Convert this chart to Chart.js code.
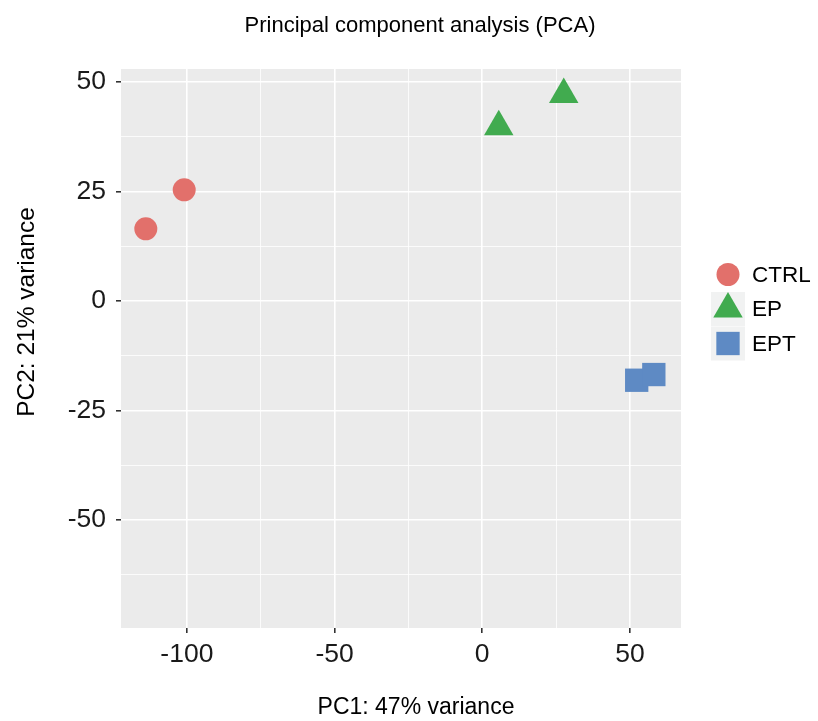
<!DOCTYPE html>
<html>
<head>
<meta charset="utf-8">
<script src="https://cdn.jsdelivr.net/npm/chart.js@4.4.1/dist/chart.umd.min.js"></script>
<style>
  html, body { margin: 0; padding: 0; background: #fff; }
  #wrap { width: 818px; height: 721px; }
</style>
</head>
<body>
<div id="wrap"><canvas id="pca" width="818" height="721"></canvas></div>
<script>
// PCA scores
const groups = ["CTRL", "EP", "EPT"];
const ctrlX = [-113.9, -100.9];
const ctrlY = [16.5, 25.4];
const epX = [5.6, 27.6];
const epY = [39.8, 47.2];
const eptX = [52.3, 58.1];
const eptY = [-18.1, -16.8];

// grid positions (major + minor) and which of them get a label
const xTicks = [-100, -75, -50, -25, 0, 25, 50];
const yTicks = [-62.5, -50, -37.5, -25, -12.5, 0, 12.5, 25, 37.5, 50];
const xLabelled = [-100, -50, 0, 50];
const yLabelled = [-50, -25, 0, 25, 50];

const groupColors = ["#E2706B", "#41AB4F", "#5E8AC4"];
const groupShapes = ["circle", "triangle", "rect"];
const groupSizes = [11.5, 17, 16.5];

const FONT = "'Liberation Sans', Arial, Helvetica, sans-serif";

function toPoints(xs, ys) {
    return xs.map((x, i) => ({ x: x, y: ys[i] }));
}

const seriesData = [toPoints(ctrlX, ctrlY), toPoints(epX, epY), toPoints(eptX, eptY)];

// grey panel behind the grid, ggplot style
const panelBg = {
    id: "panelBg",
    beforeDraw(chart) {
        const { ctx, chartArea: a } = chart;
        ctx.save();
        ctx.fillStyle = "#EBEBEB";
        ctx.fillRect(a.left, a.top, a.right - a.left, a.bottom - a.top);
        ctx.restore();
    }
};

// title, axis titles and the legend on the right
const decorations = {
    id: "decorations",
    afterDraw(chart) {
        const ctx = chart.ctx;
        ctx.save();
        ctx.fillStyle = "#000";
        ctx.textAlign = "center";
        ctx.textBaseline = "alphabetic";
        ctx.font = "22px " + FONT;
        ctx.fillText("Principal component analysis (PCA)", 420, 32);

        ctx.font = "23px " + FONT;
        ctx.fillText("PC1: 47% variance", 416, 714);

        ctx.save();
        ctx.translate(34, 312);
        ctx.rotate(-Math.PI / 2);
        ctx.font = "24.5px " + FONT;
        ctx.fillText("PC2: 21% variance", 0, 0);
        ctx.restore();

        // legend keys
        const keyX = 711, keySize = 34, firstCenter = 274.5, step = 34.5;
        chart.data.datasets.forEach((ds, i) => {
            const cy = firstCenter + i * step;
            if (i > 0) {
                ctx.fillStyle = "#F1F2F2";
                ctx.fillRect(keyX, cy - keySize / 2, keySize, keySize);
            }
            ctx.fillStyle = ds.backgroundColor;
            Chart.helpers.drawPoint(ctx, {
                pointStyle: ds.pointStyle,
                radius: ds.pointRadius,
                rotation: 0,
                borderWidth: 0
            }, keyX + keySize / 2, cy);
            ctx.fillStyle = "#000";
            ctx.font = "22.5px " + FONT;
            ctx.textAlign = "left";
            ctx.textBaseline = "middle";
            ctx.fillText(ds.label, 752, cy + 1);
        });
        ctx.restore();
    }
};

const datasets = groups.map((g, i) => ({
    label: g,
    data: seriesData[i],
    backgroundColor: groupColors[i],
    borderColor: groupColors[i],
    pointStyle: groupShapes[i],
    pointRadius: groupSizes[i],
    pointBorderWidth: 0,
    showLine: false
}));

const chartConfig = {
    type: "scatter",
    data: { datasets: datasets },
    options: {
        responsive: false,
        animation: false,
        events: [],
        layout: { padding: { top: 69, right: 137, left: 0, bottom: 0 } },
        plugins: {
            legend: { display: false },
            title: { display: false },
            tooltip: { enabled: false }
        },
        scales: {
            x: {
                type: "linear",
                min: -122.3,
                max: 67.3,
                afterBuildTicks: (scale) => {
                    scale.ticks = xTicks.map(v => ({ value: v }));
                },
                afterFit: (scale) => { scale.height = 93; },
                border: { display: false },
                grid: {
                    color: "#FFFFFF",
                    lineWidth: (c) => xLabelled.includes(c.tick.value) ? 1.6 : 0.8,
                    tickColor: (c) => xLabelled.includes(c.tick.value) ? "#333333" : "rgba(0,0,0,0)",
                    tickLength: 5
                },
                ticks: {
                    autoSkip: false,
                    maxRotation: 0,
                    padding: 6,
                    color: "#1A1A1A",
                    font: { size: 26.5, family: FONT },
                    callback: (v) => xLabelled.includes(v) ? String(v) : ""
                }
            },
            y: {
                type: "linear",
                min: -74.7,
                max: 53.0,
                afterBuildTicks: (scale) => {
                    scale.ticks = yTicks.map(v => ({ value: v }));
                },
                afterFit: (scale) => { scale.width = 121; },
                border: { display: false },
                grid: {
                    color: "#FFFFFF",
                    lineWidth: (c) => yLabelled.includes(c.tick.value) ? 1.6 : 0.8,
                    tickColor: (c) => yLabelled.includes(c.tick.value) ? "#333333" : "rgba(0,0,0,0)",
                    tickLength: 5
                },
                ticks: {
                    autoSkip: false,
                    padding: 10,
                    color: "#1A1A1A",
                    font: { size: 26.5, family: FONT },
                    callback: (v) => yLabelled.includes(v) ? String(v) : ""
                }
            }
        }
    },
    plugins: [panelBg, decorations]
};

new Chart(document.getElementById("pca"), chartConfig);
</script>
</body>
</html>
